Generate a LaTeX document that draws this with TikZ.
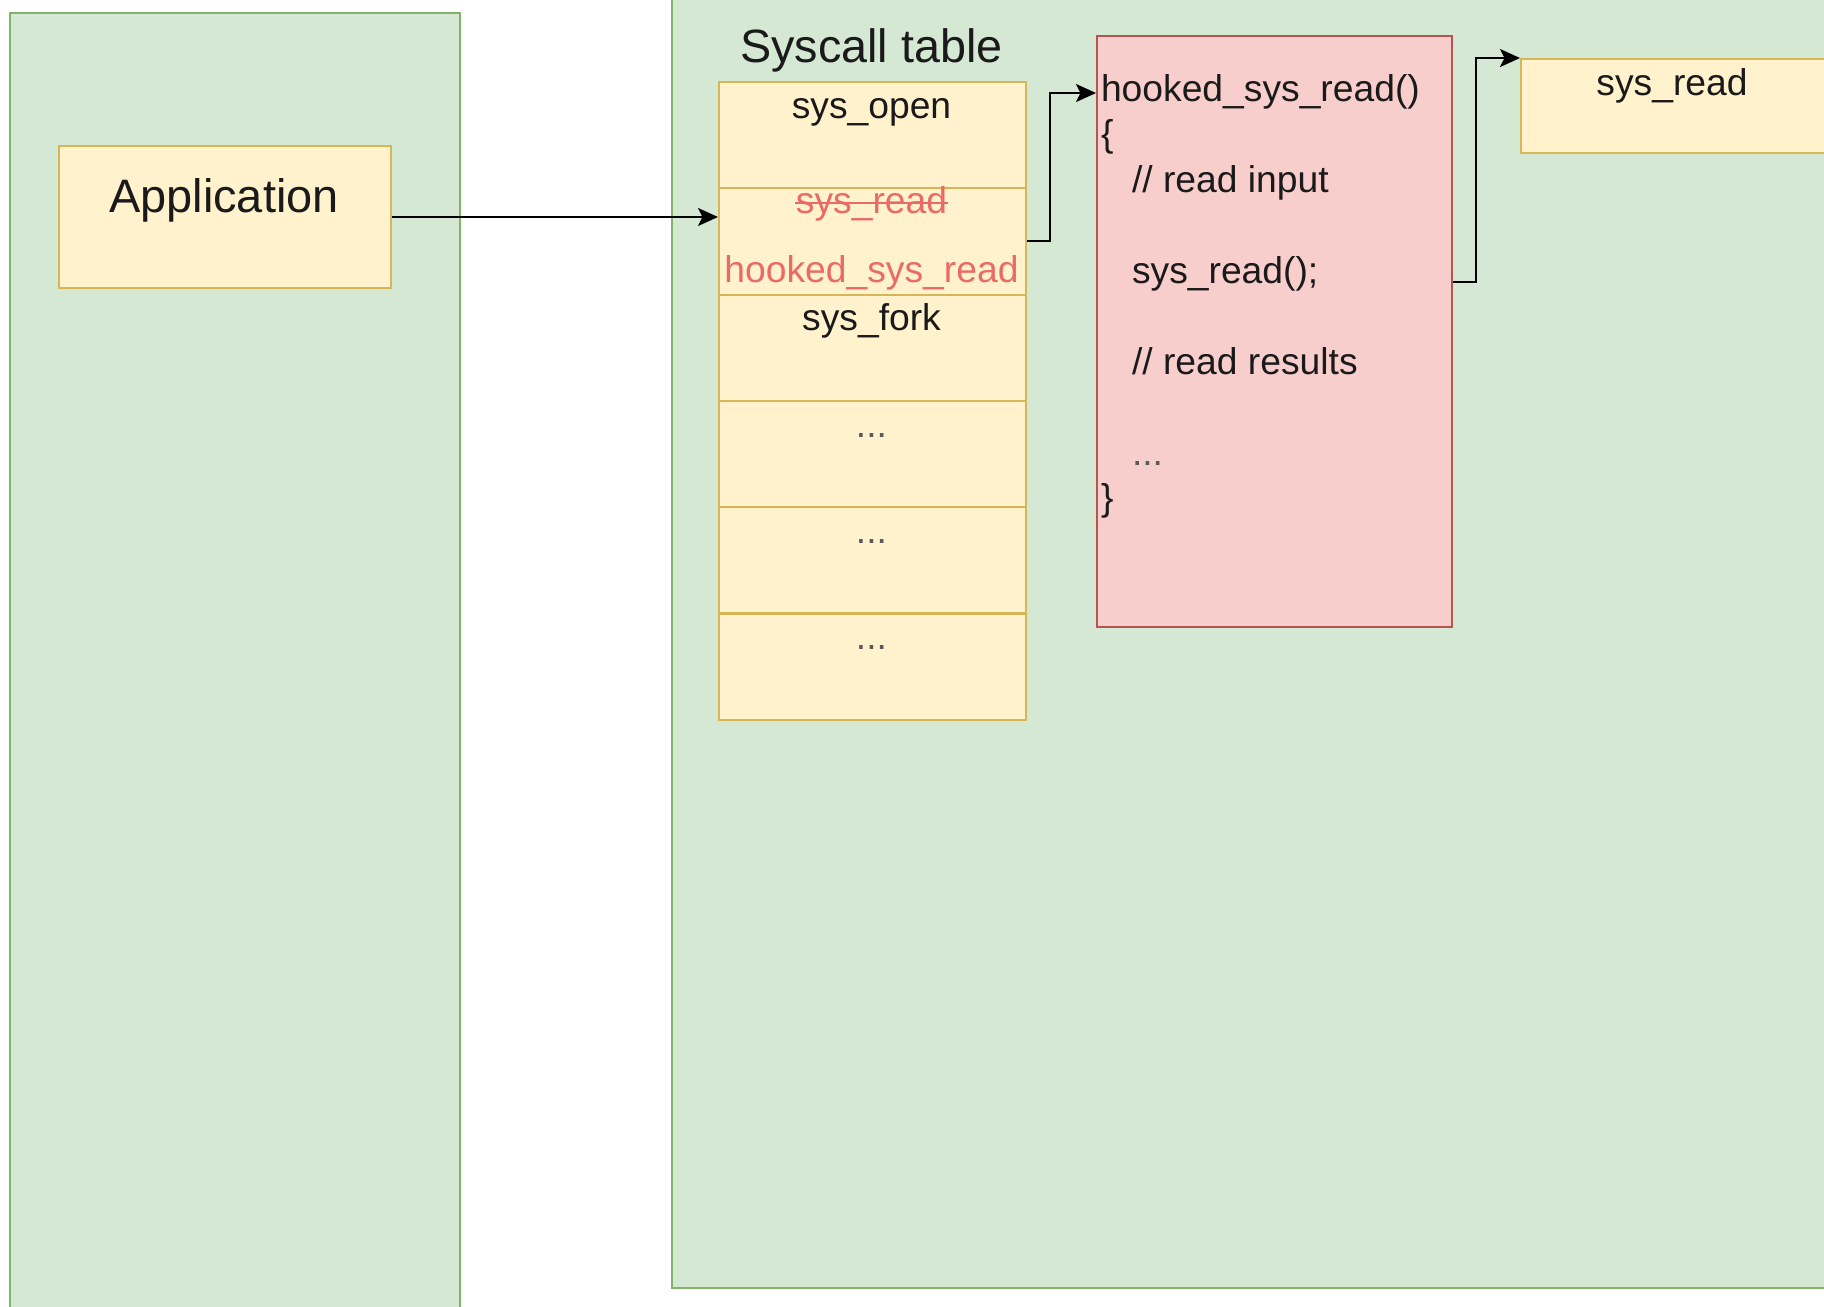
\documentclass[tikz,border=0pt]{standalone}
\usepackage{fontspec}
\setmainfont{Liberation Sans}
\usetikzlibrary{calc, arrows.meta}

\definecolor{zoneFill}{HTML}{D5E8D4}
\definecolor{zoneLine}{HTML}{82B366}
\definecolor{cellFill}{HTML}{FFF2CC}
\definecolor{cellLine}{HTML}{D6B656}
\definecolor{hookFill}{HTML}{F8CECC}
\definecolor{hookLine}{HTML}{B85450}
\definecolor{hookText}{HTML}{EA6B66}
\definecolor{ink}{HTML}{1A1A1A}
\definecolor{dim}{HTML}{5A5A5A}

\begin{document}
\begin{tikzpicture}[x=0.02cm, y=-0.02cm, line width=0.04cm,
        >={Stealth[length=0.4cm, width=0.36cm, inset=0.09cm]},
        zone/.style={draw=zoneLine, fill=zoneFill, anchor=north west, inner sep=0},
        box/.style={draw=cellLine, fill=cellFill, anchor=north west, inner sep=0},
        cell/.style={box, minimum width=6.14cm, minimum height=2.126cm},
        txt/.style={anchor=base, inner sep=0, text=ink, font=\fontsize{21.2}{25}\selectfont},
        code/.style={txt, anchor=base west},
        arrow/.style={->, draw=black}]
    \useasboundingbox (0, 0) rectangle (1824, 1306);
    \clip (0, 0) rectangle (1824, 1306);

    % user space and kernel space
    \path (9, 12) node[zone, minimum width=9cm, minimum height=26.5cm](User){};
    \path (671, -20) node[zone, minimum width=24.6cm, minimum height=26.14cm](Kernel){};

    \path (58, 145) node[box, minimum width=6.64cm, minimum height=2.84cm](App){};
    \path (224, 212) node[txt, font=\fontsize{26.7}{32}\selectfont](AppText){Application};

    % syscall table
    \path (871.5, 62) node[txt, font=\fontsize{26.6}{32}\selectfont](Title){Syscall table};
    \path (718, 81) node[cell](Open){};
    \path (718, 187.3) node[cell](Read){};
    \path (718, 293.6) node[cell](Fork){};
    \path (718, 399.9) node[cell](DotsA){};
    \path (718, 506.2) node[cell](DotsB){};
    \path (718, 612.5) node[cell](DotsC){};
    \path (871.5, 118) node[txt](OpenText){sys\_open};
    \path (871.5, 213) node[txt, text=hookText](OldRead){sys\_read};
    \draw[hookText, line width=1.1pt] ($(OldRead.base west) + (0, -9.6)$) -- ($(OldRead.base east) + (0, -9.6)$);
    \path (871.5, 282) node[txt, text=hookText](NewRead){hooked\_sys\_read};
    \path (871.5, 330) node[txt](ForkText){sys\_fork};
    \path (871.5, 437) node[txt, text=dim](DotsAText){...};
    \path (871.5, 543) node[txt, text=dim](DotsBText){...};
    \path (871.5, 649) node[txt, text=dim](DotsCText){...};

    % hooked handler
    \path (1096, 35) node[draw=hookLine, fill=hookFill, anchor=north west, inner sep=0,
        minimum width=7.1cm, minimum height=11.82cm](Hook){};
    \path (1100, 101) node[code](CodeHead){hooked\_sys\_read()};
    \path (1100, 146.5) node[code](CodeOpen){\{};
    \path (1131, 192) node[code](CodeIn){// read input};
    \path (1131, 283) node[code](CodeCall){sys\_read();};
    \path (1131, 374) node[code](CodeOut){// read results};
    \path (1131, 465) node[code, text=dim](CodeMore){...};
    \path (1100, 510) node[code](CodeClose){\}};

    \path (1520, 58) node[box, minimum width=7.6cm, minimum height=1.88cm](SysRead){};
    \path (1672, 95) node[txt](SysReadText){sys\_read};

    \coordinate (HookIn) at ($(Hook.north west) + (0, 58)$);
    \coordinate (HookOut) at ($(Hook.north east) + (0, 247)$);
    \draw[arrow] (App.east) -- (App.east -| Read.west);
    \draw[arrow] (Read.east) -- ++(23, 0) |- (HookIn);
    \draw[arrow] (HookOut) -- ++(23, 0) |- (SysRead.north west);
\end{tikzpicture}
\end{document}
